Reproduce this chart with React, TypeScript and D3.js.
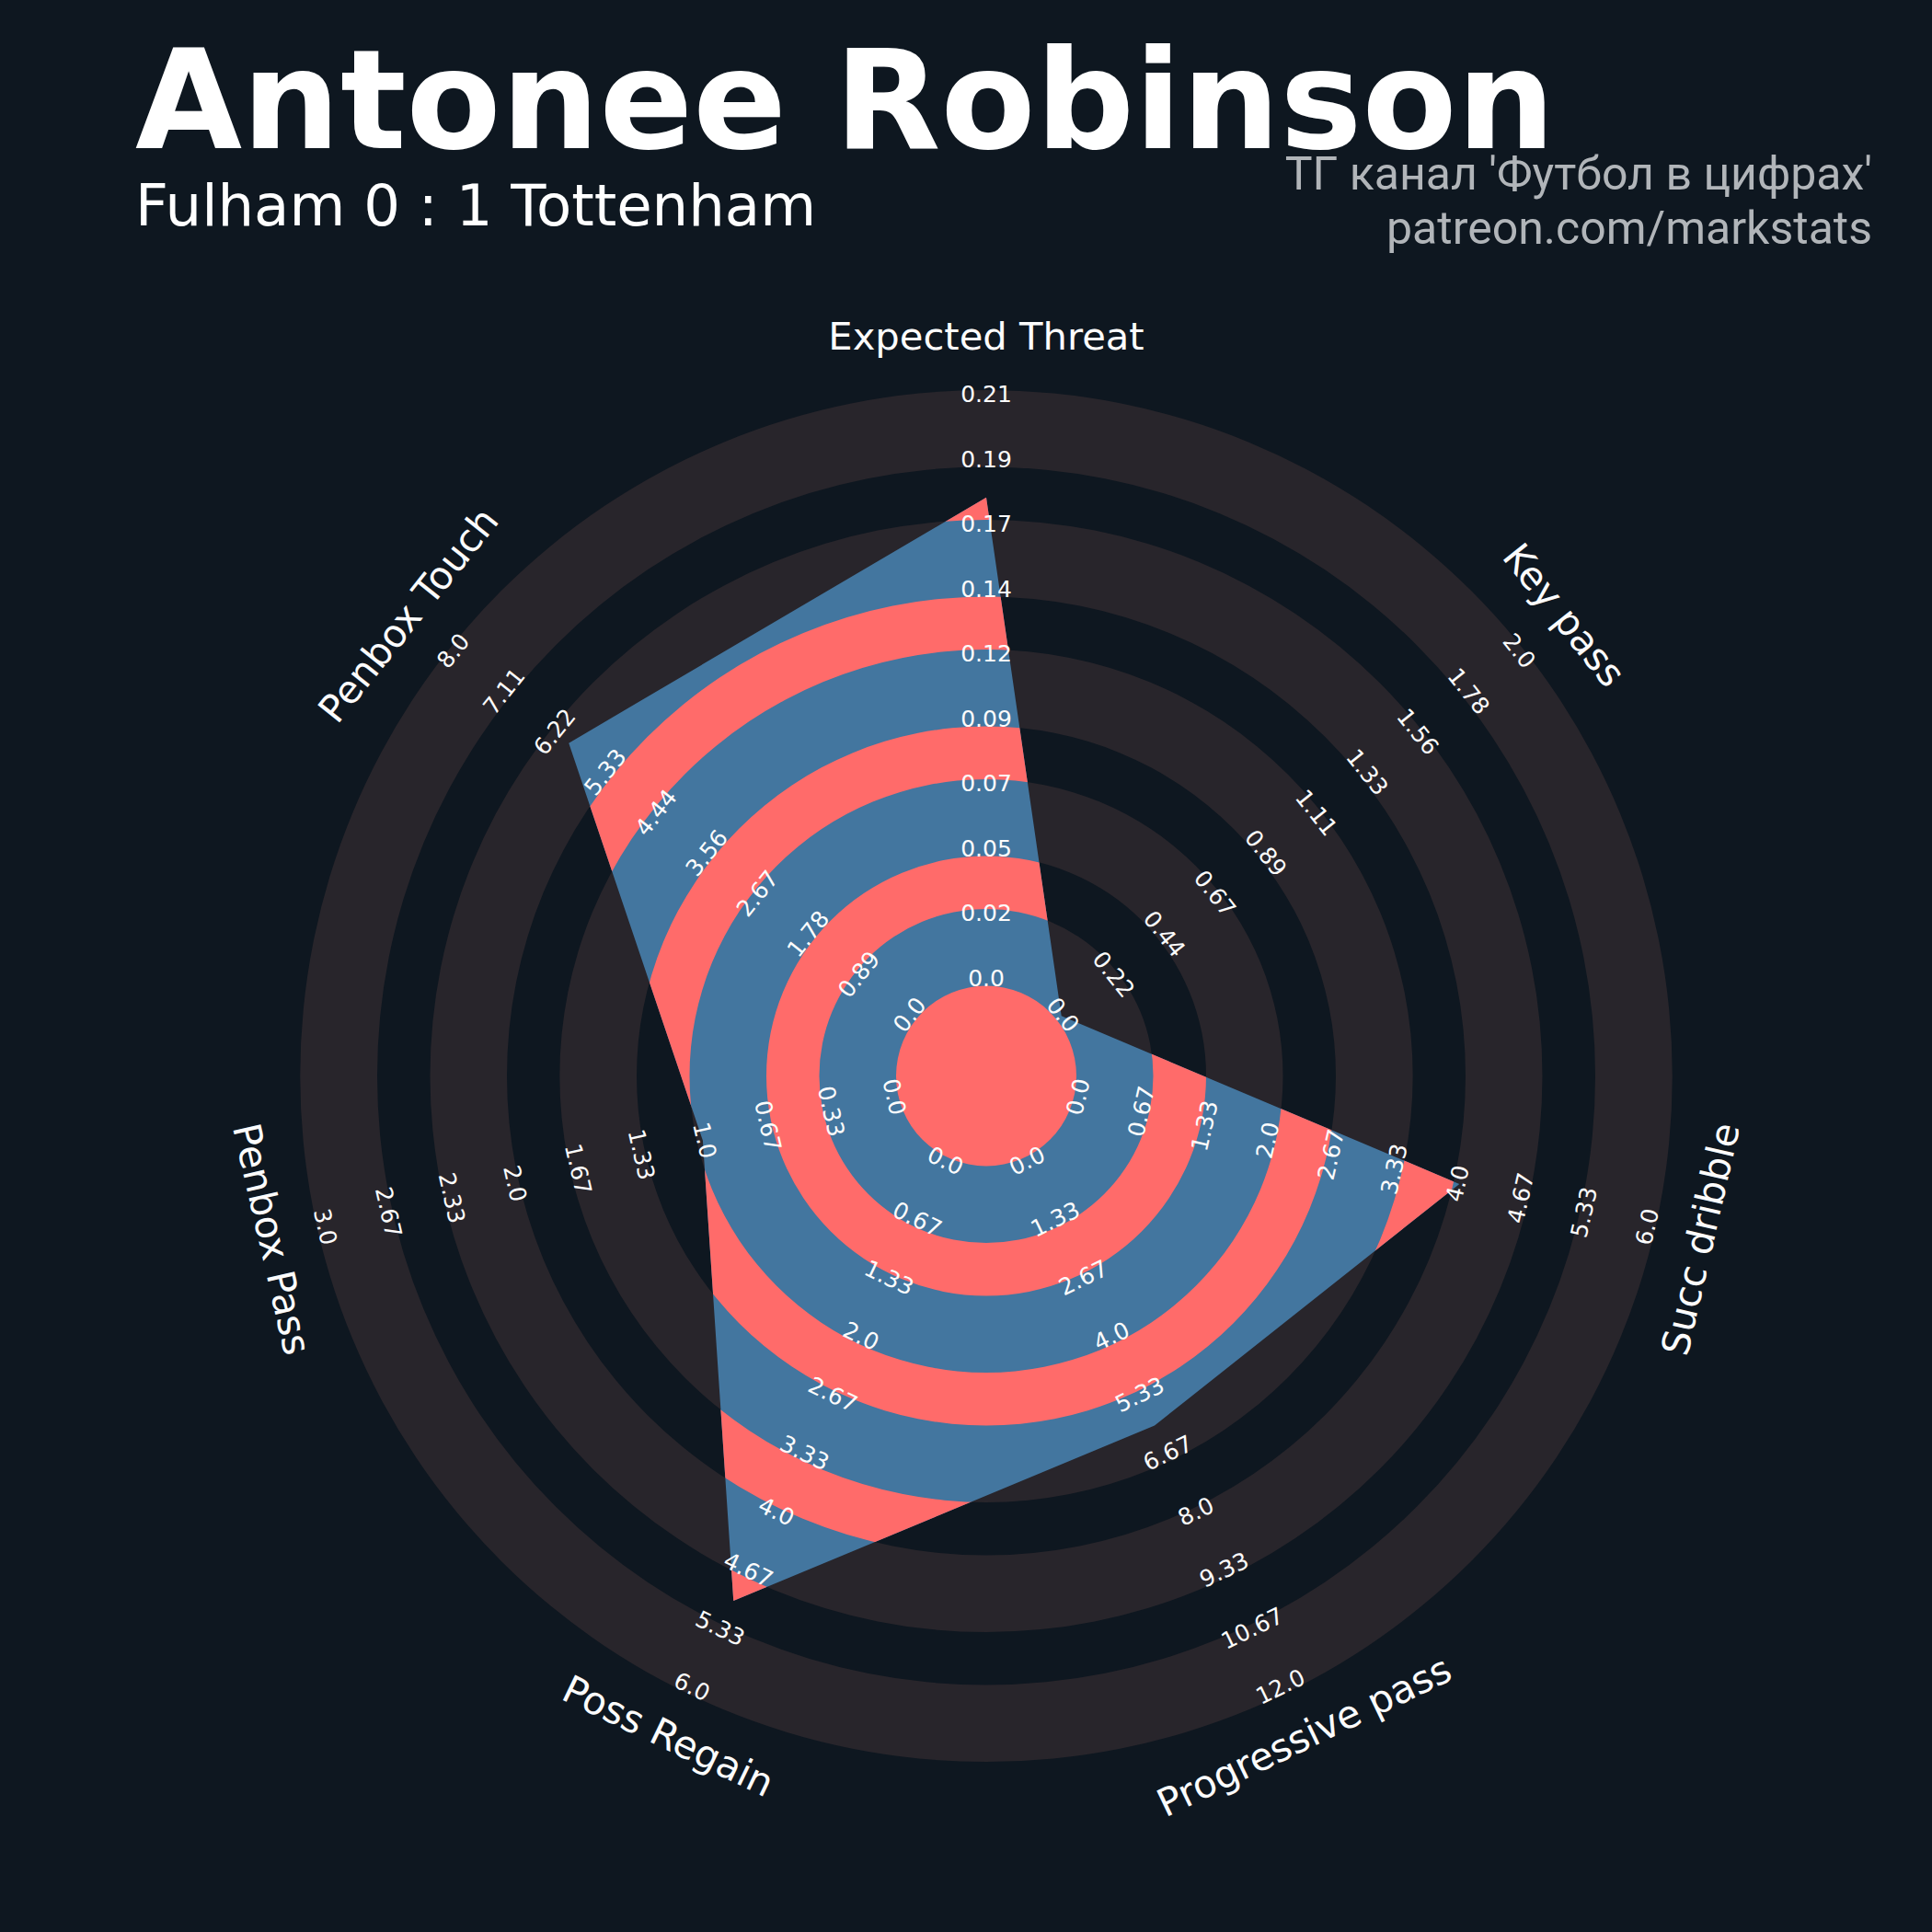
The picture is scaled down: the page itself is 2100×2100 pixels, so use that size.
import React from 'react';
import * as d3 from 'd3';

// ---- data ----
const params = ['Expected Threat', 'Key pass', 'Succ dribble', 'Progressive pass', 'Poss Regain', 'Penbox Pass', 'Penbox Touch'];
const minRange = [0, 0, 0, 0, 0, 0, 0];
const maxRange = [0.213, 2.0, 6.0, 12.0, 6.0, 3.0, 8.0];
const playerValues = [0.176, 0, 4, 6, 5, 1, 6];
const rangeLabels = [
  ['0.0', '0.02', '0.05', '0.07', '0.09', '0.12', '0.14', '0.17', '0.19', '0.21'],
  ['0.0', '0.22', '0.44', '0.67', '0.89', '1.11', '1.33', '1.56', '1.78', '2.0'],
  ['0.0', '0.67', '1.33', '2.0', '2.67', '3.33', '4.0', '4.67', '5.33', '6.0'],
  ['0.0', '1.33', '2.67', '4.0', '5.33', '6.67', '8.0', '9.33', '10.67', '12.0'],
  ['0.0', '0.67', '1.33', '2.0', '2.67', '3.33', '4.0', '4.67', '5.33', '6.0'],
  ['0.0', '0.33', '0.67', '1.0', '1.33', '1.67', '2.0', '2.33', '2.67', '3.0'],
  ['0.0', '0.89', '1.78', '2.67', '3.56', '4.44', '5.33', '6.22', '7.11', '8.0'],
];
const titleText = 'Antonee Robinson';
const subtitleText = 'Fulham 0 : 1 Tottenham';
const creditLines = ["ТГ канал 'Футбол в цифрах'", 'patreon.com/markstats'];
const NUM_RINGS = 9;

// ---- layout / style ----
const W = 2100;
const H = 2100;
const CX = 1072;
const CY = 1169.5;
const R_INNER = 104.5;
const R_OUTER = 739;
const RING_PAD = 6.5;
const PARAM_R = 800;
const BG = '#0e1720';
const RING_DARK = '#28252b';
const RADAR_BLUE = '#43769f';
const RADAR_RED = '#ff6b6a';

const ringScale = d3.scaleLinear().domain([0, NUM_RINGS]).range([R_INNER, R_OUTER]);
const angleOf = (i: number) => (i * 360) / params.length; // clockwise from top, degrees
const pt = (angleDeg: number, r: number): [number, number] => {
  const a = (angleDeg * Math.PI) / 180;
  return [CX + r * Math.sin(a), CY - r * Math.cos(a)];
};
const textRot = (a: number) => {
  if (a > 90 && a < 270) return a - 180;
  if (a >= 270) return a - 360;
  return a;
};

const annulus = (r0: number, r1: number) =>
  d3.arc()({ innerRadius: Math.max(0, r0), outerRadius: r1, startAngle: 0, endAngle: 2 * Math.PI }) as string;

export default function App() {
  const valueScales = params.map((_, i) =>
    d3.scaleLinear().domain([minRange[i], maxRange[i]]).range([R_INNER, R_OUTER])
  );
  const polyPts = playerValues.map((v, i) => pt(angleOf(i), valueScales[i](v)));
  const polyPath = d3.line()(polyPts.concat([polyPts[0]])) + 'Z';

  // dark rings (background) and red rings (inside radar)
  const darkRings: [number, number][] = [];
  const redRings: [number, number][] = [];
  for (let k = 0; k < NUM_RINGS; k += 2) {
    darkRings.push([ringScale(k) - RING_PAD, ringScale(k + 1) + RING_PAD]);
    redRings.push([k === 0 ? 0 : ringScale(k - 1) + RING_PAD, ringScale(k) - RING_PAD]);
  }

  return (
    <svg
      width={W}
      height={H}
      viewBox={`0 0 ${W} ${H}`}
      style={{ position: 'absolute', left: 0, top: 0, display: 'block' }}
      xmlns="http://www.w3.org/2000/svg"
    >
      <defs>
        <clipPath id="radarClip">
          <path d={polyPath} />
        </clipPath>
      </defs>
      <rect x={0} y={0} width={W} height={H} fill={BG} />
      <g transform={`translate(${CX},${CY})`}>
        {darkRings.map(([a, b], i) => (
          <path key={'d' + i} d={annulus(a, b)} fill={RING_DARK} />
        ))}
      </g>
      <path d={polyPath} fill={RADAR_BLUE} />
      <g clipPath="url(#radarClip)">
        <g transform={`translate(${CX},${CY})`}>
          {redRings.map(([a, b], i) => (
            <path key={'r' + i} d={annulus(a, b)} fill={RADAR_RED} />
          ))}
        </g>
      </g>

      {/* range labels */}
      {params.map((p, i) => {
        const a = angleOf(i);
        const rot = textRot(a);
        return rangeLabels[i].map((lab, j) => {
          const [x, y] = pt(a, ringScale(j));
          return (
            <text
              key={p + j}
              transform={`translate(${x},${y}) rotate(${rot})`}
              textAnchor="middle"
              dy="0.262em"
              fontFamily="DejaVu Sans"
              fontSize={25}
              fill="#fcfcfc"
            >
              {lab}
            </text>
          );
        });
      })}

      {/* param labels */}
      {params.map((p, i) => {
        const a = angleOf(i);
        const [x, y] = pt(a, PARAM_R);
        return (
          <text
            key={p}
            transform={`translate(${x},${y}) rotate(${textRot(a)})`}
            textAnchor="middle"
            dy="0.262em"
            fontFamily="DejaVu Sans"
            fontSize={41.7}
            fill="#fcfcfc"
          >
            {p}
          </text>
        );
      })}

      {/* titles */}
      <text x={147} y={161} fontFamily="DejaVu Sans" fontWeight="bold" fontSize={150} fill="#ffffff">
        {titleText}
      </text>
      <text x={147} y={245} fontFamily="DejaVu Sans" fontSize={62.5} fill="#ffffff">
        {subtitleText}
      </text>
      {creditLines.map((t, i) => (
        <text
          key={t}
          x={2035}
          y={206 + i * 59}
          textAnchor="end"
          fontFamily="Roboto"
          fontSize={50}
          fill="#b1b5b9"
        >
          {t}
        </text>
      ))}
    </svg>
  );
}
